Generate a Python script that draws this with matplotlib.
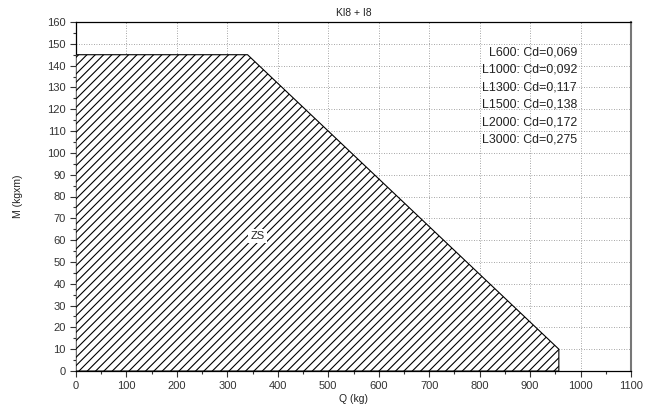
import numpy as np
import matplotlib.pyplot as plt
from matplotlib.ticker import MultipleLocator

plt.rcParams['font.family'] = ['Liberation Sans', 'DejaVu Sans']
plt.rcParams['hatch.linewidth'] = 0.8

# zone de travail (ZS)
q_pts = [0, 0, 340, 957, 957]
m_pts = [0, 145, 145, 10, 0]

labels = ['L600: Cd=0,069', 'L1000: Cd=0,092', 'L1300: Cd=0,117',
          'L1500: Cd=0,138', 'L2000: Cd=0,172', 'L3000: Cd=0,275']

fig = plt.figure(figsize=(6.48, 4.08), dpi=100)
ax = fig.add_axes([76/648, 1-371/408, 555/648, 349/408])

ax.fill(q_pts, m_pts, facecolor='white', edgecolor='black', hatch='////',
        linewidth=0.8, zorder=3)

ax.text(360, 62, 'ZS', fontsize=8, ha='center', va='center', zorder=4,
        color='#222222', bbox=dict(facecolor='white', edgecolor='none', pad=1.5))

for i, s in enumerate(labels):
    ax.text(993, 146 - i * 8, s, fontsize=8.9, ha='right', va='center',
            color='#222222', zorder=4)

ax.set_xlim(0, 1100)
ax.set_ylim(0, 160)
ax.xaxis.set_major_locator(MultipleLocator(100))
ax.xaxis.set_minor_locator(MultipleLocator(50))
ax.yaxis.set_major_locator(MultipleLocator(10))
ax.yaxis.set_minor_locator(MultipleLocator(5))
ax.tick_params(which='both', direction='out', labelsize=8, width=0.8,
               color='#333333', labelcolor='#333333')
ax.tick_params(which='major', length=4)
ax.tick_params(which='minor', length=2.5)
ax.grid(True, which='major', linestyle=(0, (1, 2)), color='#888888',
        linewidth=0.6, zorder=1)

for side in ['left', 'bottom', 'top']:
    ax.spines[side].set_linewidth(0.9)
ax.spines['right'].set_linewidth(1.5)
ax.spines['right'].set_color('#777777')

ax.set_title('Kl8 + I8', fontsize=7.5, pad=4, color='#222222')
ax.set_xlabel('Q (kg)', fontsize=7.5, labelpad=2, color='#222222')
ax.set_ylabel('M (kgxm)', fontsize=7.5, labelpad=17, color='#222222')

fig.savefig('out.png', dpi=100)
